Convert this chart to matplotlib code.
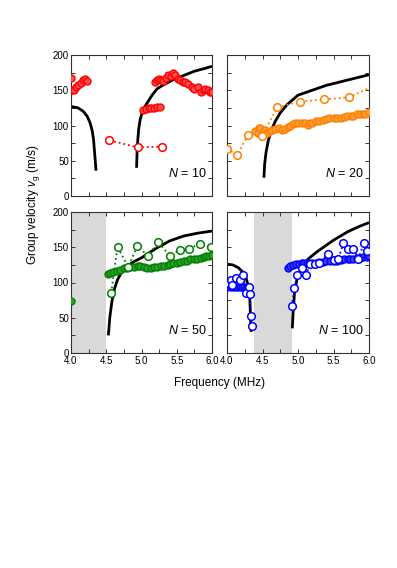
import matplotlib
matplotlib.use("Agg")
import matplotlib.pyplot as plt
from matplotlib.ticker import MultipleLocator, FormatStrFormatter

plt.rcParams['font.family'] = ['Liberation Sans', 'DejaVu Sans']
plt.rcParams['mathtext.fontset'] = 'custom'
plt.rcParams['mathtext.rm'] = 'Liberation Sans'
plt.rcParams['mathtext.it'] = 'Liberation Sans:italic'

# ---------------- data ----------------
# N = 10 (red)
th10_left_f = [4.0, 4.1, 4.175, 4.23, 4.27, 4.3, 4.32, 4.34, 4.355]
th10_left_v = [127, 125, 120, 113, 104, 93, 80, 55, 36]
th10_right_f = [4.93, 4.94, 4.96, 4.98, 5.02, 5.08, 5.15, 5.22, 5.3, 5.45, 5.6, 5.75, 5.9, 6.0]
th10_right_v = [40, 70, 95, 108, 122, 132, 143, 152, 157, 165, 171, 177, 181, 184]
fill10_f = [4.0, 4.02, 4.047, 4.07, 4.104, 4.137, 4.166, 4.2, 4.22,
            5.02, 5.06, 5.10, 5.14, 5.18, 5.22, 5.26,
            5.19, 5.22, 5.25, 5.28, 5.31, 5.35, 5.38, 5.42, 5.45, 5.48, 5.52, 5.55,
            5.59, 5.62, 5.66, 5.71, 5.75, 5.8, 5.85, 5.88, 5.9, 5.94, 5.97, 6.0]
fill10_v = [167, 151, 151, 154, 157, 160, 165, 166, 163,
            122, 124, 125, 125, 125, 126, 126,
            161, 164, 166, 165, 163, 168, 172, 170, 174, 171, 166, 165,
            161, 162, 159, 154, 152, 155, 148, 150, 152, 150, 147, 147]
open10_f = [4.545, 4.945, 5.295]
open10_v = [79, 69, 70]

# N = 20 (orange)
th20_f = [4.52, 4.53, 4.55, 4.58, 4.62, 4.68, 4.75, 4.85, 5.0, 5.2, 5.4, 5.6, 5.8, 6.0]
th20_v = [26, 45, 62, 78, 92, 106, 118, 130, 143, 150, 157, 162, 167, 172]
fill20_f = [4.4, 4.43, 4.45, 4.47, 4.5, 4.53, 4.57, 4.6, 4.64, 4.68, 4.73, 4.77, 4.82,
            4.86, 4.89, 4.93, 4.96, 5.0, 5.05, 5.1, 5.14, 5.17, 5.2, 5.25, 5.3, 5.35,
            5.39, 5.44, 5.5, 5.55, 5.6, 5.65, 5.69, 5.74, 5.78, 5.83, 5.88, 5.92, 5.95, 6.0]
fill20_v = [92, 90, 96, 97, 91, 93, 90, 92, 93, 95, 96, 94, 95,
            98, 100, 102, 103, 104, 104, 103, 101, 103, 104, 106, 107, 108,
            109, 110, 111, 111, 111, 112, 113, 113, 114, 116, 117, 117, 117, 119]
open20_f = [4.0, 4.145, 4.29, 4.49, 4.71, 5.03, 5.37, 5.72, 6.1]
open20_v = [67, 58, 86, 85, 126, 134, 137, 140, 158]

# N = 50 (green)
th50_f = [4.53, 4.55, 4.58, 4.62, 4.66, 4.72, 4.8, 4.9, 5.0, 5.2, 5.4, 5.6, 5.8, 6.0]
th50_v = [25, 50, 73, 92, 104, 115, 124, 130, 135, 148, 159, 166, 170, 173]
fill50_f = [4.0, 4.52, 4.56, 4.6, 4.65, 4.7, 4.75, 4.79, 4.84, 4.9, 4.95, 4.98, 5.03,
            5.08, 5.13, 5.18, 5.22, 5.27, 5.32, 5.37, 5.41, 5.45, 5.5, 5.55, 5.6,
            5.65, 5.69, 5.74, 5.79, 5.84, 5.88, 5.92, 5.96, 6.0]
fill50_v = [74, 112, 113, 115, 116.5, 118, 120, 121, 122, 122, 123, 123.5, 122,
            121, 121, 121.5, 122, 123, 124, 125, 126, 128, 127, 129, 130,
            131, 133, 133, 134, 135, 136, 138, 138, 139]
open50_f = [4.57, 4.66, 4.81, 4.94, 5.09, 5.24, 5.4, 5.54, 5.68, 5.83, 5.99]
open50_v = [85, 151, 122, 151.5, 138, 157, 138, 146, 148, 155, 150]

# N = 100 (blue)
th100_left_f = [4.0, 4.08, 4.16, 4.22, 4.27, 4.3, 4.32, 4.33, 4.34]
th100_left_v = [126, 125, 121, 115, 106, 95, 80, 55, 30]
th100_right_f = [4.92, 4.93, 4.95, 4.98, 5.02, 5.08, 5.15, 5.26, 5.4, 5.5, 5.7, 5.85, 6.0]
th100_right_v = [35, 55, 85, 102, 115, 125, 134, 143, 153, 160, 172, 179, 185]
fill100_f = [4.0, 4.05, 4.1, 4.14, 4.18, 4.21, 4.24, 4.27, 4.29,
             4.86, 4.89, 4.93, 4.97, 5.01, 5.05, 5.09, 5.12, 5.16, 5.2, 5.26, 5.3,
             5.35, 5.4, 5.45, 5.5, 5.55, 5.6, 5.65, 5.7, 5.73, 5.78, 5.83, 5.88,
             5.92, 5.97, 6.0]
fill100_v = [93, 93, 93, 93, 93, 93, 93, 92, 91,
             121, 123, 125, 126, 126, 127, 127, 127, 128, 128, 128, 129,
             129, 130, 130, 130.5, 131, 132, 133, 133, 134, 134, 135, 135,
             136, 136, 137]
open100a_f = [4.02, 4.05, 4.07, 4.12, 4.18, 4.22, 4.27, 4.31, 4.32, 4.34, 4.35]
open100a_v = [100, 103, 97, 107, 103, 111, 85, 93, 84, 52, 38]
open100b_f = [4.91, 4.95, 4.99, 5.05, 5.11, 5.17, 5.24, 5.3, 5.42, 5.5, 5.57,
              5.64, 5.71, 5.78, 5.85, 5.93, 5.97]
open100b_v = [66, 92, 111, 121, 111, 126, 126, 128, 140.5, 132, 134,
              156, 148, 148, 134, 156, 145]

gap50 = (4.0, 4.5)
gap100 = (4.38, 4.91)

# ---------------- figure ----------------
fig = plt.figure(figsize=(3.97, 5.68), dpi=100)
W, H = 397, 568


def make_ax(x0, y0, x1, y1):
    return fig.add_axes([x0 / W, 1 - y1 / H, (x1 - x0) / W, (y1 - y0) / H])


ax1 = make_ax(71, 55, 212, 196)
ax2 = make_ax(227, 55, 369, 196)
ax3 = make_ax(71, 212, 212, 353)
ax4 = make_ax(227, 212, 369, 353)

spine_col = '#333333'
for ax in (ax1, ax2, ax3, ax4):
    ax.set_xlim(4.0, 6.0)
    ax.set_ylim(0, 200)
    ax.xaxis.set_major_locator(MultipleLocator(0.5))
    ax.xaxis.set_minor_locator(MultipleLocator(0.25))
    ax.yaxis.set_major_locator(MultipleLocator(50))
    ax.yaxis.set_minor_locator(MultipleLocator(25))
    ax.xaxis.set_major_formatter(FormatStrFormatter('%.1f'))
    ax.tick_params(which='both', direction='in', top=True, right=True,
                   length=3, width=0.7, color=spine_col, labelsize=7)
    ax.tick_params(axis='y', pad=1.5)
    ax.tick_params(axis='x', pad=2.5)
    for s in ax.spines.values():
        s.set_color(spine_col)
        s.set_linewidth(0.8)

for ax in (ax1, ax2):
    ax.tick_params(labelbottom=False)
for ax in (ax2, ax4):
    ax.tick_params(labelleft=False)

th_kw = dict(color='black', lw=2.0, zorder=2, solid_capstyle='butt')


def filled(ax, f, v, face, edge):
    ax.plot(f, v, ls='none', marker='o', ms=5, mfc=face, mec=edge, mew=1.0,
            zorder=3, clip_on=True)


def opened(ax, f, v, col):
    ax.plot(f, v, ls=':', lw=1.3, color=col, marker='o', ms=5.5, mfc='white',
            mec=col, mew=1.1, zorder=4, clip_on=True)


# N = 10
ax1.plot(th10_left_f, th10_left_v, **th_kw)
ax1.plot(th10_right_f, th10_right_v, **th_kw)
filled(ax1, fill10_f, fill10_v, '#ff5050', '#ff0000')
opened(ax1, open10_f, open10_v, '#ff0000')

# N = 20
ax2.plot(th20_f, th20_v, **th_kw)
filled(ax2, fill20_f, fill20_v, '#ffa040', '#ff8000')
opened(ax2, open20_f, open20_v, '#ff8000')

# N = 50
ax3.axvspan(*gap50, color='#d9d9d9', lw=0, zorder=1)
ax3.plot(th50_f, th50_v, **th_kw)
filled(ax3, fill50_f, fill50_v, '#2ea02e', '#008000')
opened(ax3, open50_f, open50_v, '#008000')

# N = 100
ax4.axvspan(*gap100, color='#d9d9d9', lw=0, zorder=1)
ax4.plot(th100_left_f, th100_left_v, **th_kw)
ax4.plot(th100_right_f, th100_right_v, **th_kw)
filled(ax4, fill100_f, fill100_v, '#4040ff', '#0000ff')
opened(ax4, open100a_f, open100a_v, '#0000ff')
opened(ax4, open100b_f, open100b_v, '#0000ff')

labels = ['10', '20', '50', '100']
for ax, n in zip((ax1, ax2, ax3, ax4), labels):
    ax.text(0.96, 0.16, r'$N$ = ' + n, transform=ax.transAxes, ha='right',
            va='center', fontsize=9)

fig.text(220 / W, 1 - 383 / H, 'Frequency (MHz)', ha='center', va='center', fontsize=8.5)
fig.text(33 / W, 1 - 205 / H, r'Group velocity $v_{\mathrm{g}}$ (m/s)', ha='center',
         va='center', rotation=90, fontsize=8.5)

fig.savefig('out.png', dpi=100)
